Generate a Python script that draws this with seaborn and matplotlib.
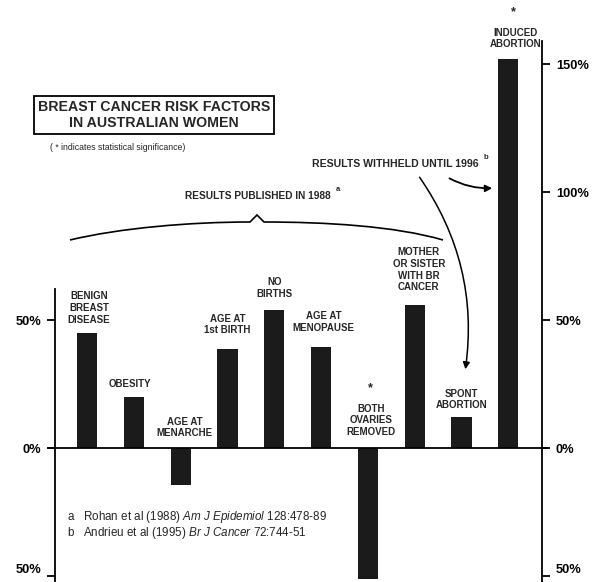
import matplotlib
matplotlib.use('Agg')
import matplotlib.pyplot as plt
import seaborn as sns
import pandas as pd
from matplotlib.patches import FancyArrowPatch, PathPatch
from matplotlib.path import Path

# ---------------- data ----------------
categories = ["BENIGN\nBREAST\nDISEASE", "OBESITY", "AGE AT\nMENARCHE", "AGE AT\n1st BIRTH",
              "NO\nBIRTHS", "AGE AT\nMENOPAUSE", "BOTH\nOVARIES\nREMOVED",
              "MOTHER\nOR SISTER\nWITH BR\nCANCER", "SPONT\nABORTION", "INDUCED\nABORTION"]
risk_change = [45, 20, -14.5, 38.7, 54, 39.5, -51, 56, 12, 152]
significant = [False, False, False, False, False, False, True, False, False, True]
left_ticks = [-50, 0, 50]
left_tick_labels = ["50%", "0%", "50%"]
right_ticks = [-50, 0, 50, 100, 150]
right_tick_labels = ["50%", "0%", "50%", "100%", "150%"]
title_text = "BREAST CANCER RISK FACTORS\nIN AUSTRALIAN WOMEN"
subtitle_text = "( * indicates statistical significance)"
published_text = "RESULTS PUBLISHED IN 1988"
withheld_text = "RESULTS WITHHELD UNTIL 1996"
citations = [r"a   Rohan et al (1988) $\it{Am\ J\ Epidemiol}$ 128:478-89",
             r"b   Andrieu et al (1995) $\it{Br\ J\ Cancer}$ 72:744-51"]

# label offsets (points) relative to bar top (or zero line for negative bars)
label_dx = [1.5, -3, 3, 0, 0, 2, 2.5, 3, 0, 5]
label_dy = [6, 6, 7, 10, 8, 10, 8, 9, 5, 7]

sns.set_theme(style='white')
plt.rcParams['font.family'] = ['Liberation Sans', 'DejaVu Sans']
plt.rcParams['mathtext.fontset'] = 'custom'
plt.rcParams['mathtext.rm'] = 'Liberation Sans'
plt.rcParams['mathtext.it'] = 'Liberation Sans:italic'

W, H = 599, 582
fig = plt.figure(figsize=(W / 100, H / 100), dpi=100, facecolor='white')
ax = fig.add_axes([55 / W, 0, (542 - 55) / W, 1])
ax.set_facecolor('none')

df = pd.DataFrame({'factor': categories, 'change': risk_change})
sns.barplot(data=df, x='factor', y='change', color='#1b1b1b', saturation=1,
            width=0.43, ax=ax, edgecolor='none')

ymin, ymax = -52.3, 175
ax.set_ylim(ymin, ymax)
ax.set_xlim(-0.684, 9.72)
ax.set_xticks([])
ax.set_xlabel('')
ax.set_ylabel('')

for s in ['top', 'bottom', 'right']:
    ax.spines[s].set_visible(False)
ax.spines['left'].set_color('black')
ax.spines['left'].set_linewidth(1.3)
ax.spines['left'].set_bounds(ymin, 62)
ax.set_yticks(left_ticks, left_tick_labels)
ax.tick_params(axis='y', left=True, direction='out', length=6, width=1.3,
               pad=4, labelsize=9.3, colors='black')
for t in ax.get_yticklabels():
    t.set_fontweight('bold')
ax.get_yticklabels()[0].set_verticalalignment('bottom')

ax2 = ax.twinx()
ax2.set_ylim(ymin, ymax)
for s in ['top', 'bottom', 'left']:
    ax2.spines[s].set_visible(False)
ax2.spines['right'].set_color('black')
ax2.spines['right'].set_linewidth(1.3)
ax2.spines['right'].set_bounds(ymin, 159)
ax2.set_yticks(right_ticks, right_tick_labels)
ax2.tick_params(axis='y', right=True, direction='out', length=6, width=1.3,
                pad=4, labelsize=9.3, colors='black')
for t in ax2.get_yticklabels():
    t.set_fontweight('bold')
ax2.get_yticklabels()[0].set_verticalalignment('bottom')
ax2.grid(False)
ax.grid(False)

ax.axhline(0, color='black', lw=1.3, xmin=-0.015, xmax=1.01, clip_on=False)

# bar labels
for i, (lab, v) in enumerate(zip(categories, risk_change)):
    base = max(v, 0)
    ax.annotate(lab, xy=(i, base), xytext=(label_dx[i], label_dy[i]),
                textcoords='offset points', ha='center', va='bottom',
                fontsize=7, fontweight='bold', linespacing=1.2)
    if significant[i]:
        nlines = lab.count('\n') + 1
        ax.annotate('*', xy=(i, base), xytext=(label_dx[i] - 1, label_dy[i] + nlines * 8.5 + 5),
                    textcoords='offset points', ha='center', va='bottom',
                    fontsize=9, fontweight='bold')

def fp(x, y):
    return (x / W, 1 - y / H)

# title box
fig.text(*fp(154, 115), title_text, ha='center', va='center', fontsize=10.2,
         fontweight='bold', linespacing=1.1,
         bbox=dict(boxstyle='square,pad=0.3', fc='white', ec='black', lw=1.3))
fig.text(*fp(50, 148), subtitle_text, ha='left', va='center', fontsize=6.3)

# published brace
fig.text(*fp(258, 196), published_text, ha='center', va='center', fontsize=7.3, fontweight='bold')
fig.text(*fp(338, 190), 'a', ha='center', va='center', fontsize=5.5, fontweight='bold')
verts = [fp(70, 240), fp(120, 228), fp(190, 222), fp(250, 222),
         fp(257, 215), fp(264, 222),
         fp(325, 222), fp(395, 226), fp(443, 240)]
codes = [Path.MOVETO, Path.CURVE4, Path.CURVE4, Path.CURVE4,
         Path.LINETO, Path.LINETO,
         Path.CURVE4, Path.CURVE4, Path.CURVE4]
brace = PathPatch(Path(verts, codes), fc='none', ec='black', lw=1.2,
                  transform=fig.transFigure)
fig.add_artist(brace)

# withheld arrows
fig.text(*fp(395, 164), withheld_text, ha='center', va='center', fontsize=7.6, fontweight='bold')
fig.text(*fp(486, 158), 'b', ha='center', va='center', fontsize=5.5, fontweight='bold')
a1 = FancyArrowPatch(fp(418, 175), fp(465, 372), connectionstyle='arc3,rad=-0.2',
                     arrowstyle='-|>,head_length=4,head_width=2', color='black', lw=1.1,
                     transform=fig.transFigure)
a2 = FancyArrowPatch(fp(447, 177), fp(495, 188), connectionstyle='arc3,rad=0.15',
                     arrowstyle='-|>,head_length=4,head_width=2', color='black', lw=1.3,
                     transform=fig.transFigure)
fig.add_artist(a1)
fig.add_artist(a2)

# citations
fig.text(*fp(67, 517), citations[0], ha='left', va='center', fontsize=8.4)
fig.text(*fp(67, 533), citations[1], ha='left', va='center', fontsize=8.4)

fig.savefig('out.png', dpi=100, facecolor='white')
